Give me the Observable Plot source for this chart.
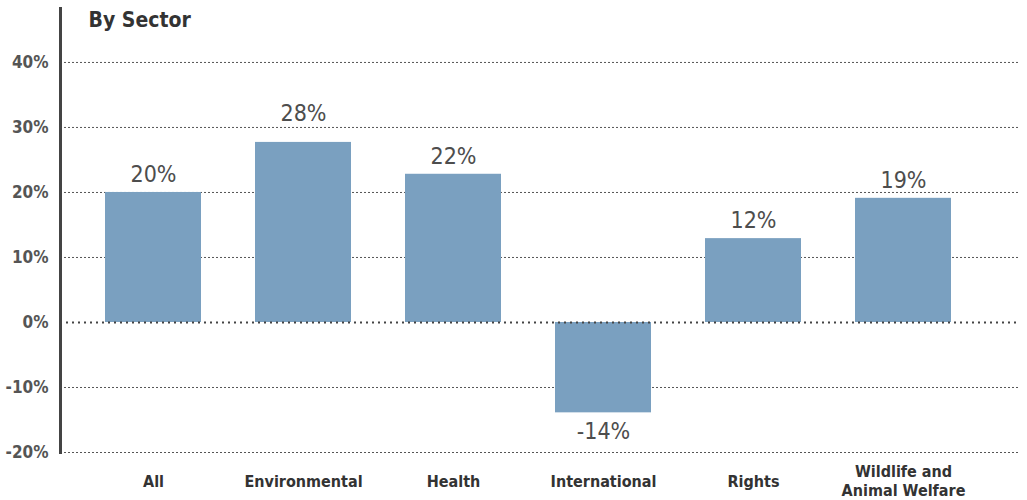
<!DOCTYPE html>
<html>
<head>
<meta charset="utf-8">
<script src="https://cdn.jsdelivr.net/npm/d3@7"></script>
<script src="https://cdn.jsdelivr.net/npm/@observablehq/plot@0.6"></script>
<style>
  html, body { margin: 0; padding: 0; background: #fff; }
  #chart { width: 1027px; height: 500px; }
  #chart svg { font-stretch: condensed; }
</style>
</head>
<body>
<div id="chart"></div>
<script>
const title = "By Sector";
const categories = ["All", "Environmental", "Health", "International", "Rights", "Wildlife and\nAnimal Welfare"];
const values = [20, 27.7, 22.8, -13.9, 12.9, 19.1];
const valueLabels = ["20%", "28%", "22%", "-14%", "12%", "19%"];
const yTicks = [-20, -10, 0, 10, 20, 30, 40];

const data = categories.map((c, i) => ({category: c, value: values[i], label: valueLabels[i]}));
const font = "'DejaVu Sans Condensed', 'DejaVu Sans', sans-serif";

// a label whose text would be crossed by a gridline is lifted above that gridline
const crossesGrid = d => d.value >= 0 && yTicks.some(t => t - d.value > 1.2 && t - d.value < 4.5);

const chart = Plot.plot({
  width: 1027,
  height: 500,
  marginLeft: 60,
  marginRight: 7,
  marginTop: 8,
  marginBottom: 48,
  style: {fontFamily: font, background: "#fff"},
  x: {domain: categories, paddingInner: 0.36, paddingOuter: 0.38, align: 0.395, axis: null},
  y: {domain: [-20, 48.3], axis: null},
  marks: [
    Plot.ruleY(yTicks.filter(d => d !== 0), {stroke: "#555", strokeWidth: 1, strokeDasharray: "2,2"}),
    Plot.barY(data, {x: "category", y: "value", fill: "#7aa0c0"}),
    Plot.ruleY([0], {stroke: "#444", strokeWidth: 2, strokeDasharray: "2,4"}),
    Plot.frame({anchor: "left", stroke: "#444", strokeWidth: 3}),
    Plot.axisY(yTicks, {tickSize: 0, tickPadding: 12, tickFormat: d => d + "%", fontSize: 17, fontWeight: "bold", fill: "#555", label: null}),
    Plot.text(data, {x: "category", frameAnchor: "bottom", dy: 28, text: "category", lineAnchor: "middle", lineHeight: 1.2, fontSize: 16, fontWeight: "bold", fill: "#333"}),
    Plot.text(data.filter(d => d.value >= 0 && !crossesGrid(d)), {x: "category", y: "value", text: "label", dy: -18, lineAnchor: "middle", fontSize: 23, fill: "#4d4d4d"}),
    Plot.text(data.filter(crossesGrid), {x: "category", y: "value", text: "label", dy: -29, lineAnchor: "middle", fontSize: 23, fill: "#4d4d4d"}),
    Plot.text(data.filter(d => d.value < 0), {x: "category", y: "value", text: "label", dy: 19, lineAnchor: "middle", fontSize: 23, fill: "#4d4d4d"}),
    Plot.text([title], {frameAnchor: "top-left", dx: 28, dy: 12, lineAnchor: "middle", textAnchor: "start", fontSize: 21, fontWeight: "bold", fill: "#333"})
  ]
});
document.getElementById("chart").appendChild(chart);
</script>
</body>
</html>
